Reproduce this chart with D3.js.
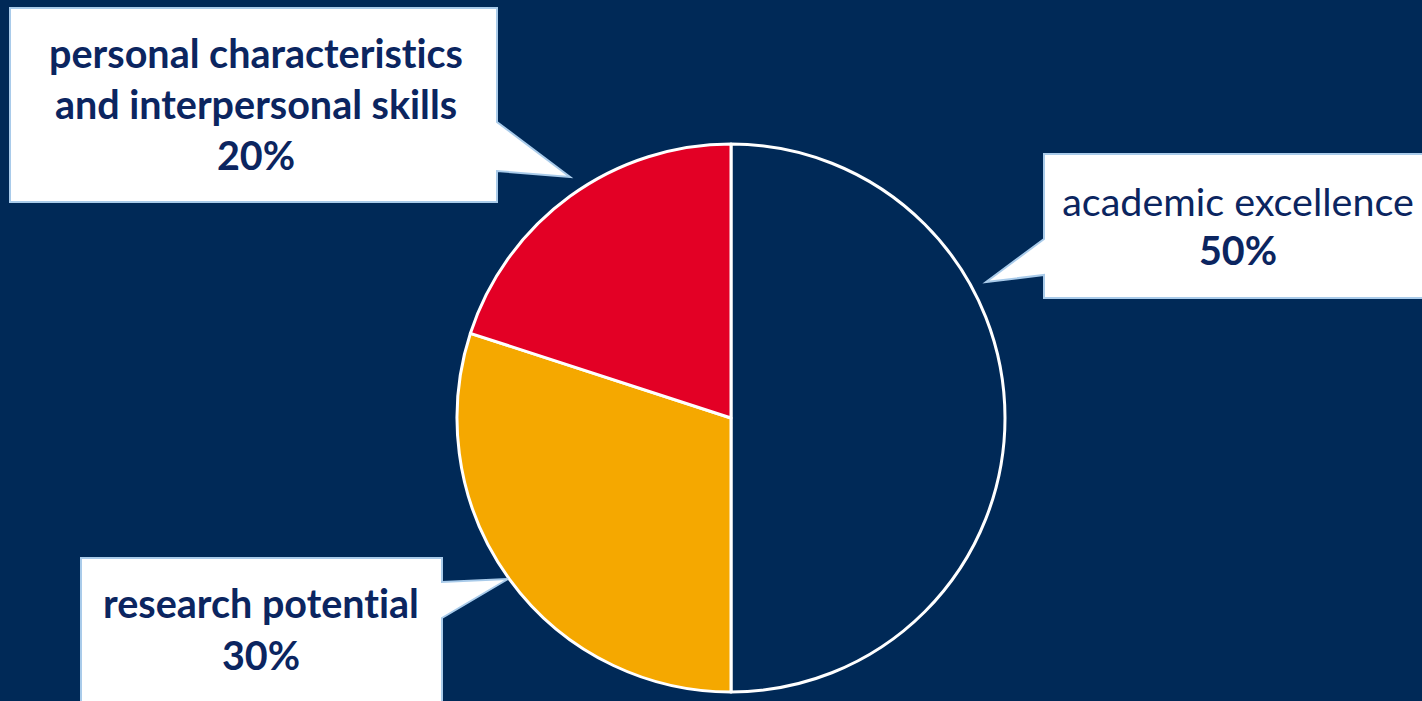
<!DOCTYPE html>
<html><head><meta charset="utf-8">
<script src="https://cdn.jsdelivr.net/npm/d3@7"></script>
<style>html,body{margin:0;padding:0;background:#002957;overflow:hidden}
text{font-variant-ligatures:none;font-feature-settings:"liga" 0,"clig" 0}</style>
</head><body>
<svg id="c" width="1422" height="701"></svg>
<script>
const categories = ["academic excellence", "research potential", "personal characteristics and interpersonal skills"];
const values = [50, 30, 20];
const valueLabels = ["50%", "30%", "20%"];
const colors = ["#002957", "#F5A800", "#E30025"];

const W = 1422, H = 701;
const svg = d3.select("#c");
svg.append("rect").attr("width", W).attr("height", H).attr("fill", "#002957");

const cx = 731, cy = 418, R = 274;
const pie = d3.pie().sort(null).value(d => d)(values);
const arc = d3.arc().innerRadius(0).outerRadius(R);
const g = svg.append("g").attr("transform", `translate(${cx},${cy})`);
g.selectAll("path").data(pie).join("path")
  .attr("d", arc).attr("fill", (d, i) => colors[i])
  .attr("stroke", "#fff").attr("stroke-width", 3).attr("stroke-linejoin", "round");

const callouts = [
  { i: 0, x0: 1044, y0: 154, x1: 1430, y1: 298, side: "left", b1: 239, b2: 275, tip: [986, 282],
    lines: [{t: categories[0], w: "normal", y: 216}, {t: valueLabels[0], w: "bold", y: 265}], tx: 1238 },
  { i: 1, x0: 81, y0: 558, x1: 442, y1: 710, side: "right", b1: 582, b2: 618, tip: [508, 579],
    lines: [{t: "research potential", w: "bold", y: 618}, {t: valueLabels[1], w: "bold", y: 670}], tx: 261 },
  { i: 2, x0: 10, y0: 8, x1: 497, y1: 202, side: "right", b1: 122, b2: 171, tip: [570, 177],
    lines: [{t: "personal characteristics", w: "bold", y: 68}, {t: "and interpersonal skills", w: "bold", y: 119}, {t: valueLabels[2], w: "bold", y: 170}], tx: 256 }
];

callouts.forEach(c => {
  let pts;
  if (c.side === "right") {
    pts = [[c.x0, c.y0], [c.x1, c.y0], [c.x1, c.b1], c.tip, [c.x1, c.b2], [c.x1, c.y1], [c.x0, c.y1]];
  } else {
    pts = [[c.x0, c.y0], [c.x1, c.y0], [c.x1, c.y1], [c.x0, c.y1], [c.x0, c.b2], c.tip, [c.x0, c.b1]];
  }
  svg.append("path").attr("d", d3.line()(pts) + "Z")
    .attr("fill", "#fff").attr("stroke", "#A9CBEA").attr("stroke-width", 2);
  c.lines.forEach(l => {
    svg.append("text").attr("x", c.tx).attr("y", l.y)
      .attr("text-anchor", "middle")
      .attr("font-family", "Lato, 'Open Sans', sans-serif")
      .attr("font-weight", l.w).attr("font-size", 39.5)
      .attr("fill", "#0B2560").text(l.t);
  });
});
</script>
</body></html>
